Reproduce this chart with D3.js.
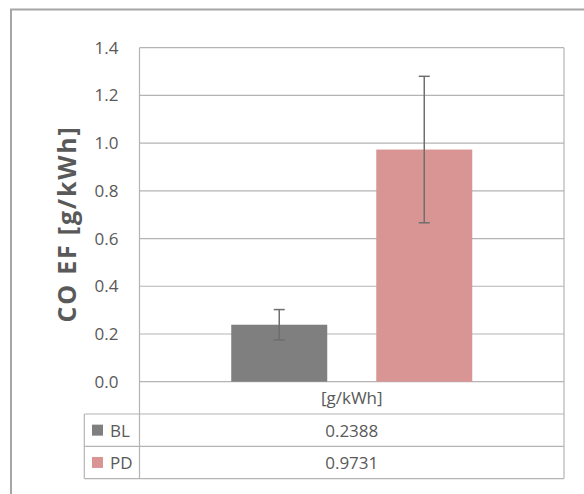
<!DOCTYPE html>
<html>
<head>
<meta charset="utf-8">
<script src="https://cdn.jsdelivr.net/npm/d3@7"></script>
<style>
  html, body { margin: 0; padding: 0; background: #fff; }
  svg { display: block; font-family: "Open Sans", "Liberation Sans", sans-serif; }
</style>
</head>
<body>
<svg id="chart" width="584" height="494"></svg>
<script>
// CO emission factor, baseline vs. PD
const categories = ["[g/kWh]"];
const seriesNames = ["BL", "PD"];
const seriesValues = [0.2388, 0.9731];
const seriesErrors = [0.0635, 0.307];
const seriesColors = ["#7f7f7f", "#d99594"];
const yTicks = [0, 0.2, 0.4, 0.6, 0.8, 1.0, 1.2, 1.4];
const yTitle = "CO EF [g/kWh]";

const svg = d3.select("#chart");
const plot = { left: 139.5, right: 564, top: 47.7, bottom: 381.7 };
const rowH = 32.3;
const tableLeft = 84.3;
const gridColor = "#b4b4b4";
const textColor = "#595959";

// outer chart frame (right and bottom run off the canvas)
svg.append("rect")
  .attr("x", 11).attr("y", 9.5)
  .attr("width", 600).attr("height", 520)
  .attr("fill", "none").attr("stroke", "#a6a6a6").attr("stroke-width", 2);

const y = d3.scaleLinear().domain([0, 1.4]).range([plot.bottom, plot.top]);
const x0 = d3.scaleBand().domain(categories).range([plot.left, plot.right])
  .paddingInner(0.2757).paddingOuter(0.2757);
const x1 = d3.scaleBand().domain(seriesNames).range([0, x0.bandwidth()])
  .paddingInner(0.338).paddingOuter(0);

// horizontal gridlines
svg.append("g").selectAll("line").data(yTicks).join("line")
  .attr("x1", plot.left).attr("x2", plot.right)
  .attr("y1", d => y(d)).attr("y2", d => y(d))
  .attr("stroke", gridColor).attr("stroke-width", 1.2);

// y axis labels
const yAxis = d3.axisLeft(y).tickValues(yTicks).tickSize(0).tickPadding(21)
  .tickFormat(d3.format(".1f"));
const ya = svg.append("g").attr("transform", `translate(${plot.left},0)`).call(yAxis);
ya.select(".domain").remove();
ya.selectAll("text")
  .attr("fill", textColor).style("font-size", "17px")
  .style("font-family", "'Open Sans', sans-serif");

// y axis title
svg.append("text")
  .attr("transform", `translate(76,224) rotate(-90)`)
  .attr("text-anchor", "middle")
  .attr("fill", textColor).style("font-size", "25px").style("font-weight", "bold")
  .style("letter-spacing", "1.8px")
  .text(yTitle);

// bars
const groups = svg.append("g").selectAll("g").data(categories).join("g")
  .attr("transform", d => `translate(${x0(d)},0)`);
groups.selectAll("rect").data(() => seriesNames.map((s, i) => ({ s, v: seriesValues[i], c: seriesColors[i] })))
  .join("rect")
  .attr("x", d => x1(d.s)).attr("width", x1.bandwidth())
  .attr("y", d => y(d.v)).attr("height", d => y(0) - y(d.v))
  .attr("fill", d => d.c);

// error bars
const capW = 11;
const eb = groups.selectAll("g.err")
  .data(() => seriesNames.map((s, i) => ({ s, v: seriesValues[i], e: seriesErrors[i] })))
  .join("g").attr("class", "err")
  .attr("transform", d => `translate(${x1(d.s) + x1.bandwidth() / 2},0)`)
  .attr("stroke", "#6f6f6f").attr("stroke-width", 1.5);
eb.append("line").attr("y1", d => y(d.v + d.e)).attr("y2", d => y(d.v - d.e));
eb.append("line").attr("x1", -capW / 2).attr("x2", capW / 2)
  .attr("y1", d => y(d.v + d.e)).attr("y2", d => y(d.v + d.e));
eb.append("line").attr("x1", -capW / 2).attr("x2", capW / 2)
  .attr("y1", d => y(d.v - d.e)).attr("y2", d => y(d.v - d.e));

// data table below the plot
const tbl = svg.append("g").attr("stroke", gridColor).attr("stroke-width", 1.2).attr("fill", "none");
const tableBottom = plot.bottom + rowH * (seriesNames.length + 1);
// plot area left/right borders extend down through the table
tbl.append("line").attr("x1", plot.left).attr("x2", plot.left).attr("y1", plot.top).attr("y2", tableBottom);
tbl.append("line").attr("x1", plot.right).attr("x2", plot.right).attr("y1", plot.top).attr("y2", tableBottom);
// row separators
tbl.selectAll("line.row").data(d3.range(1, seriesNames.length + 2)).join("line").attr("class", "row")
  .attr("x1", tableLeft).attr("x2", plot.right)
  .attr("y1", i => plot.bottom + rowH * i).attr("y2", i => plot.bottom + rowH * i);
tbl.append("line").attr("x1", tableLeft).attr("x2", tableLeft)
  .attr("y1", plot.bottom + rowH).attr("y2", tableBottom);

const colCenter = x0(categories[0]) + x0.bandwidth() / 2;
svg.append("text")
  .attr("x", colCenter).attr("y", plot.bottom + rowH / 2)
  .attr("text-anchor", "middle").attr("dominant-baseline", "central")
  .attr("fill", textColor).style("font-size", "17px")
  .text(categories[0]);

const rows = svg.append("g").selectAll("g").data(seriesNames).join("g")
  .attr("transform", (d, i) => `translate(0,${plot.bottom + rowH * (i + 1)})`);
rows.append("rect")
  .attr("x", 92).attr("y", rowH / 2 - 5.5).attr("width", 11).attr("height", 11)
  .attr("fill", (d, i) => seriesColors[i]);
rows.append("text")
  .attr("x", 110).attr("y", rowH / 2)
  .attr("dominant-baseline", "central")
  .attr("fill", textColor).style("font-size", "17px")
  .text(d => d);
rows.append("text")
  .attr("x", colCenter).attr("y", rowH / 2)
  .attr("text-anchor", "middle").attr("dominant-baseline", "central")
  .attr("fill", textColor).style("font-size", "17px")
  .text((d, i) => seriesValues[i].toFixed(4));
</script>
</body>
</html>
